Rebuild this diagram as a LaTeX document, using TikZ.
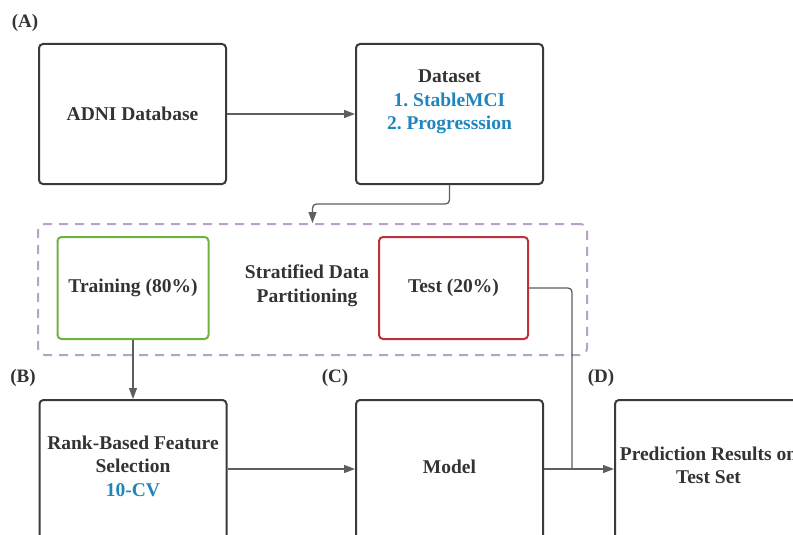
\documentclass[tikz,border=0pt]{standalone}
\usepackage{fontspec}
\setmainfont{Liberation Serif}
\usetikzlibrary{arrows.meta}
\frenchspacing

\definecolor{boxLine}{HTML}{3A3A3A}
\definecolor{textDark}{HTML}{333333}
\definecolor{textBlue}{HTML}{1F86BD}
\definecolor{arrowGray}{HTML}{5E5E5E}
\definecolor{splitGreen}{HTML}{6DB33F}
\definecolor{splitRed}{HTML}{C0303A}
\definecolor{dashPurple}{HTML}{B9A2C6}

\begin{document}
\begin{tikzpicture}[x=1pt, y=-1pt,
            box/.style={rectangle, rounded corners=4pt, draw=boxLine, line width=2pt, minimum width=187pt, minimum height=140pt, align=center, text=textDark, font=\fontsize{19.5}{23.5}\selectfont\bfseries},
            boxGreen/.style={box, draw=splitGreen, minimum width=151pt, minimum height=102pt},
            boxRed/.style={box, draw=splitRed, minimum width=149pt, minimum height=102pt},
            txt/.style={align=center, text=textDark, font=\fontsize{19.5}{23.5}\selectfont\bfseries},
            tag/.style={text=textDark, font=\fontsize{19}{22}\selectfont\bfseries},
            line/.style={draw=arrowGray, line width=1.3pt, rounded corners=4pt},
            arrow/.style={line, -{Triangle[length=11pt, width=8pt]}}]

            \useasboundingbox (0,0) rectangle (793,535);
            \clip (0,0) rectangle (793,535);

            % partition frame goes first
            \node[rectangle, rounded corners=7pt, draw=dashPurple, line width=2pt, dash pattern=on 9pt off 7pt, minimum width=549pt, minimum height=131pt] (part) at (312.5,289.5) {};

            \node[tag] (tA) at (25,23) {(A)};
            \node[tag] (tB) at (23,378) {(B)};
            \node[tag] (tC) at (335,378) {(C)};
            \node[tag] (tD) at (601,378) {(D)};

            \node[box] (adni) at (132.5,114) {ADNI Database};
            \node[box] (data) at (449.5,114) {};
            \node[txt] (dataTxt) at ([yshift=12pt]data.center) {Dataset\\\textcolor{textBlue}{1. StableMCI}\\\textcolor{textBlue}{2. Progresssion}};

            \node[boxGreen] (train) at (133,288) {Training (80\%)};
            \node[txt] (strat) at (307,286) {Stratified Data\\Partitioning};
            \node[boxRed] (test) at (453.5,288) {Test (20\%)};

            \node[box] (rank) at (133,470) {};
            \node[txt] (rankTxt) at ([yshift=4pt]rank.center) {Rank-Based Feature\\Selection\\\textcolor{textBlue}{10-CV}};
            \node[box] (model) at (449.5,470) {};
            \node[txt] (modelTxt) at ([yshift=3pt]model.center) {Model};
            \node[box] (pred) at (708.5,470) {};
            \node[txt] (predTxt) at ([yshift=4.5pt]pred.center) {Prediction Results on\\Test Set};

            \coordinate (join) at (572,469);

            \draw[arrow] (adni.east) -- (data.west);
            \draw[arrow] (data.south) -- ++(0,19) -| (part.north);
            \draw[arrow] (train.south) -- (rank.north);
            \draw[arrow] (rank.east |- join) -- (model.west |- join);
            \draw[arrow] (model.east |- join) -- (pred.west |- join);
            \draw[line] (test.east) -| (join);

\end{tikzpicture}
\end{document}
